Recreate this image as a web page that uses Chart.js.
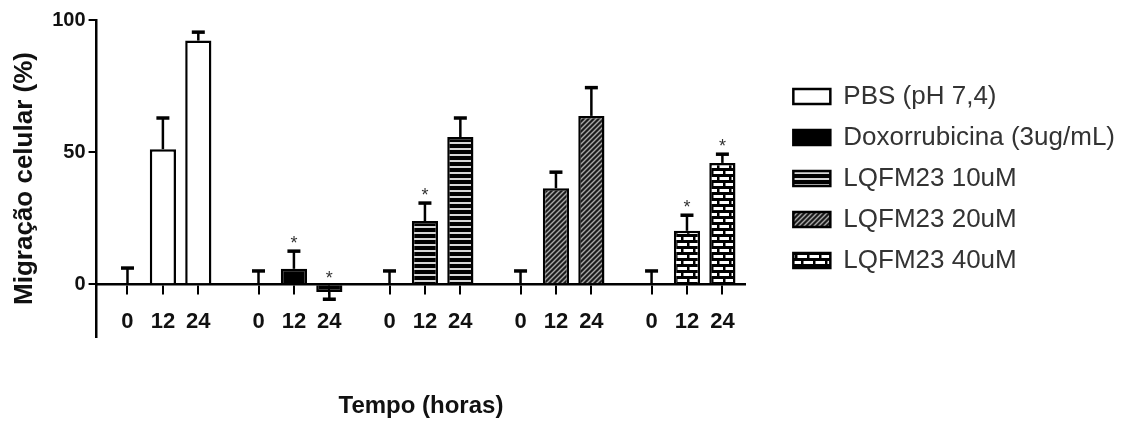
<!DOCTYPE html>
<html>
<head>
<meta charset="utf-8">
<script src="https://cdn.jsdelivr.net/npm/chart.js@4.4.1/dist/chart.umd.min.js"></script>
<style>
  html, body { margin: 0; padding: 0; background: #fff; }
  #wrap { width: 1127px; height: 421px; }
</style>
</head>
<body>
<div id="wrap"><canvas id="chart"></canvas></div>
<script>
// Migração celular (%) por tratamento e tempo
const timeLabels = ['0', '12', '24'];
const groupNames = ['PBS (pH 7,4)', 'Doxorrubicina (3ug/mL)', 'LQFM23 10uM', 'LQFM23 20uM', 'LQFM23 40uM'];

const pbs  = [0, 51.1, 92.2];
const doxo = [0, 5.8, -3.0];
const lq10 = [0, 23.9, 55.7];
const lq20 = [0, 36.3, 63.7];
const lq40 = [0, 20.2, 45.9];

const pbsErr  = [6.1, 11.8, 3.2];
const doxoErr = [5.0, 6.7, 2.7];
const lq10Err = [5.0, 6.8, 7.2];
const lq20Err = [5.0, 6.1, 10.7];
const lq40Err = [5.0, 5.9, 3.3];

// bars marked with * (significance)
const pbsStar  = [false, false, false];
const doxoStar = [false, true, true];
const lq10Star = [false, true, false];
const lq20Star = [false, false, false];
const lq40Star = [false, true, true];

const yTicks = [0, 50, 100];

// layout of the x axis: bars one unit apart, groups a bit further
const GROUP_STEP = 3.7;
const xPositions = [];
groupNames.forEach((_, g) => timeLabels.forEach((_, i) => xPositions.push(g * GROUP_STEP + i)));

const FONT = "'Liberation Sans', Arial, sans-serif";
Chart.defaults.font.family = FONT;
Chart.defaults.color = '#111';

function makePattern(w, h, draw) {
  const c = document.createElement('canvas');
  c.width = w;
  c.height = h;
  const p = c.getContext('2d');
  draw(p, w, h);
  return p.createPattern(c, 'repeat');
}

const stripes = makePattern(6, 6, (p) => {
  p.fillStyle = '#000';
  p.fillRect(0, 0, 6, 6);
  p.fillStyle = '#d6d6d6';
  p.fillRect(0, 4, 6, 2);
});

const hatch = makePattern(5, 5, (p) => {
  p.fillStyle = '#1c1c1c';
  p.fillRect(0, 0, 5, 5);
  p.strokeStyle = '#a8a8a8';
  p.lineWidth = 1.4;
  p.beginPath();
  p.moveTo(-1, 6); p.lineTo(6, -1);
  p.moveTo(-1, 1); p.lineTo(1, -1);
  p.moveTo(4, 6); p.lineTo(6, 4);
  p.stroke();
});

const bricks = makePattern(12, 12, (p) => {
  p.fillStyle = '#fff';
  p.fillRect(0, 0, 12, 12);
  p.fillStyle = '#000';
  p.fillRect(0, 0, 12, 3);
  p.fillRect(0, 6, 12, 3);
  p.fillRect(3, 0, 2.5, 6);
  p.fillRect(9, 6, 2.5, 6);
});

const series = [
  { values: pbs,  errors: pbsErr,  stars: pbsStar,  fill: '#fff' },
  { values: doxo, errors: doxoErr, stars: doxoStar, fill: '#000' },
  { values: lq10, errors: lq10Err, stars: lq10Star, fill: stripes },
  { values: lq20, errors: lq20Err, stars: lq20Star, fill: hatch },
  { values: lq40, errors: lq40Err, stars: lq40Star, fill: bricks },
];

const datasets = series.map((s, g) => ({
  label: groupNames[g],
  data: s.values.map((v, i) => ({ x: g * GROUP_STEP + i, y: v })),
  errors: s.errors,
  stars: s.stars,
  backgroundColor: s.fill,
  borderColor: '#000',
  borderWidth: 2.5,
  grouped: false,
  categoryPercentage: 1,
  barPercentage: 0.74,
}));

// error bars (one-sided, away from zero) and asterisks
const errorBars = {
  id: 'errorBars',
  afterDatasetsDraw(chart) {
    const { ctx } = chart;
    const y = chart.scales.y;
    ctx.save();
    ctx.strokeStyle = '#000';
    chart.data.datasets.forEach((ds, d) => {
      const meta = chart.getDatasetMeta(d);
      meta.data.forEach((bar, i) => {
        const v = ds.data[i].y;
        const dir = v < 0 ? -1 : 1;
        const end = y.getPixelForValue(v + dir * ds.errors[i]);
        ctx.lineWidth = 2.5;
        ctx.beginPath();
        ctx.moveTo(bar.x, bar.y);
        ctx.lineTo(bar.x, end);
        ctx.stroke();
        ctx.lineWidth = 3.5;
        ctx.beginPath();
        ctx.moveTo(bar.x - 6.5, end);
        ctx.lineTo(bar.x + 6.5, end);
        ctx.stroke();
        if (ds.stars[i]) {
          const sy = v < 0 ? y.getPixelForValue(0) - 10 : end - 12;
          ctx.fillStyle = '#333';
          ctx.font = '18px ' + FONT;
          ctx.textAlign = 'center';
          ctx.textBaseline = 'alphabetic';
          ctx.fillText('*', bar.x, sy + 10);
        }
      });
    });
    ctx.restore();
  }
};

new Chart(document.getElementById('chart'), {
  type: 'bar',
  data: { datasets },
  plugins: [errorBars],
  options: {
    responsive: true,
    maintainAspectRatio: false,
    animation: false,
    events: [],
    layout: { padding: { left: 6, top: 20, right: 2, bottom: 84 } },
    plugins: {
      tooltip: { enabled: false },
      legend: {
        position: 'right',
        align: 'center',
        maxWidth: 420,
        labels: {
          boxWidth: 37,
          boxHeight: 15,
          padding: 15,
          color: '#333',
          font: { size: 26 },
        },
      },
    },
    scales: {
      x: {
        type: 'linear',
        min: -0.873,
        max: (groupNames.length - 1) * GROUP_STEP + 2.648,
        offset: false,
        position: { y: 0 },
        afterBuildTicks: (axis) => { axis.ticks = xPositions.map(v => ({ value: v })); },
        ticks: {
          callback: (v, i) => timeLabels[i % timeLabels.length],
          autoSkip: false,
          maxRotation: 0,
          padding: 16,
          color: '#111',
          font: { size: 22, weight: 'bold' },
        },
        grid: { drawOnChartArea: false, offset: false, tickLength: 9, color: '#000', lineWidth: 2 },
        border: { color: '#000', width: 2.5 },
        title: {
          display: true,
          text: 'Tempo (horas)',
          color: '#111',
          font: { size: 24, weight: 'bold' },
          padding: { top: 40, bottom: 4 },
        },
      },
      y: {
        min: -20,
        max: 100,
        afterBuildTicks: (axis) => { axis.ticks = yTicks.map(v => ({ value: v })); },
        ticks: { padding: 3, color: '#111', font: { size: 20, weight: 'bold' } },
        grid: { drawOnChartArea: false, tickLength: 8, color: '#000', lineWidth: 2 },
        border: { color: '#000', width: 2.5 },
        title: {
          display: true,
          text: 'Migração celular (%)',
          color: '#111',
          font: { size: 26, weight: 'bold' },
          padding: { top: 3, bottom: 9 },
        },
      },
      // empty spacer between plot and legend
      gap: {
        type: 'linear',
        position: 'right',
        display: true,
        grid: { display: false },
        border: { display: false },
        ticks: { display: false },
        afterFit: (scale) => { scale.width = 33; },
      },
    },
  },
});
</script>
</body>
</html>
